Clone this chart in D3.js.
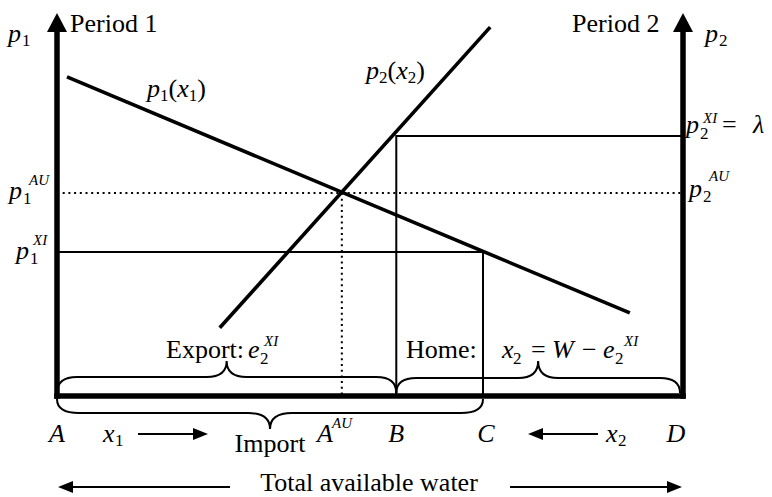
<!DOCTYPE html>
<html>
<head>
<meta charset="utf-8">
<script src="https://cdn.jsdelivr.net/npm/d3@7"></script>
<style>
  html, body { margin: 0; padding: 0; background: #fff; }
  svg { display: block; }
  text { font-family: "Liberation Serif", "Times New Roman", serif; fill: #000; }
</style>
</head>
<body>
<svg id="chart" width="772" height="497"></svg>
<script>
// ---------- data (water units 0..100 from A to D, price units 0..100) ----------
const pointNames  = ["A", "AAU", "B", "C", "D"];
const pointValues = [0, 45.5, 54.2, 68.05, 100];
const demand1 = [{x: 1.6, p: 83.3}, {x: 91.5, p: 21.7}];   // p1(x1)
const supply2 = [{x: 26.0, p: 17.8}, {x: 69.2, p: 96.3}];  // p2(x2)
const priceNames  = ["p1AU", "p1XI", "p2XI"];
const priceValues = [53.0, 37.6, 67.9];
const axisTop = 100;

const P = Object.fromEntries(pointNames.map((n, i) => [n, pointValues[i]]));
const Q = Object.fromEntries(priceNames.map((n, i) => [n, priceValues[i]]));

const svg = d3.select("#chart");
const x = d3.scaleLinear().domain([0, 100]).range([57, 683]);
const y = d3.scaleLinear().domain([0, 100]).range([396, 13]);

const g = svg.append("g");
const FS = 26, SUB = 17, SUP = 15;

function txt(px, py, s, opt = {}) {
  const t = g.append("text").attr("x", px).attr("y", py).text(s)
    .style("font-size", (opt.size || FS) + "px");
  if (opt.italic) t.style("font-style", "italic");
  if (opt.anchor) t.attr("text-anchor", opt.anchor);
  return t;
}
function flow(px, py, parts, anchor) {
  const t = g.append("text").attr("x", px).attr("y", py);
  if (anchor) t.attr("text-anchor", anchor);
  let prev = 0;
  parts.forEach(([s, it, sz, off]) => {
    const ts = t.append("tspan").text(s).attr("dy", (off || 0) - prev)
      .style("font-size", (sz || FS) + "px");
    if (it) ts.style("font-style", "italic");
    prev = off || 0;
  });
  return t;
}

// ---------- reference lines ----------
g.append("line").attr("x1", x(0)).attr("x2", x(100)).attr("y1", y(Q.p1AU)).attr("y2", y(Q.p1AU))
  .attr("stroke", "#000").attr("stroke-width", 2).attr("stroke-dasharray", "2,3.7");
g.append("line").attr("x1", x(P.AAU)).attr("x2", x(P.AAU)).attr("y1", y(Q.p1AU)).attr("y2", y(0))
  .attr("stroke", "#000").attr("stroke-width", 2).attr("stroke-dasharray", "2,3.7");

g.append("path").attr("d", `M${x(0)},${y(Q.p1XI)} H${x(P.C)} V${y(0)}`)
  .attr("fill", "none").attr("stroke", "#000").attr("stroke-width", 2);
g.append("path").attr("d", `M${x(P.B)},${y(0)} V${y(Q.p2XI)} H${x(100)}`)
  .attr("fill", "none").attr("stroke", "#000").attr("stroke-width", 2);

// ---------- curves ----------
const line = d3.line().x(d => x(d.x)).y(d => y(d.p));
g.append("path").attr("d", line(demand1)).attr("fill", "none").attr("stroke", "#000").attr("stroke-width", 3.6);
g.append("path").attr("d", line(supply2)).attr("fill", "none").attr("stroke", "#000").attr("stroke-width", 3.6);

// ---------- axes ----------
const AW = 5.5;
g.append("line").attr("x1", x(0) - AW / 2).attr("x2", x(100) + AW / 2).attr("y1", y(0)).attr("y2", y(0))
  .attr("stroke", "#000").attr("stroke-width", AW);
[0, 100].forEach(v => {
  g.append("line").attr("x1", x(v)).attr("x2", x(v)).attr("y1", y(0) + AW / 2).attr("y2", y(axisTop) + 14)
    .attr("stroke", "#000").attr("stroke-width", AW);
  const tx = x(v), ty = y(axisTop);
  g.append("path").attr("d", `M${tx},${ty} L${tx - 10},${ty + 19} L${tx + 10},${ty + 19} Z`).attr("fill", "#000");
});

// ---------- braces ----------
function brace(x0, x1, yBase, dir, h1, h2, r) {
  const yb = yBase + dir * h1, yt = yBase + dir * h2, xm = (x0 + x1) / 2;
  const p = d3.path();
  p.moveTo(x0, yBase);
  p.quadraticCurveTo(x0, yb, x0 + r, yb);
  p.lineTo(xm - r, yb);
  p.quadraticCurveTo(xm, yb, xm, yt);
  p.quadraticCurveTo(xm, yb, xm + r, yb);
  p.lineTo(x1 - r, yb);
  p.quadraticCurveTo(x1, yb, x1, yBase);
  g.append("path").attr("d", p.toString()).attr("fill", "none").attr("stroke", "#000").attr("stroke-width", 2);
}
brace(x(0), x(P.B), y(0) - 3, -1, 16, 32, 20);
brace(x(P.B), x(100) - 3, y(0) - 3, -1, 15, 32, 20);
brace(x(0), x(P.C), y(0) + 3, 1, 14, 30, 22);

// ---------- arrows ----------
function arrow(xa, xb, yy) {
  const dir = Math.sign(xb - xa), hl = 15, hw = 6;
  g.append("line").attr("x1", xa).attr("x2", xb - dir * hl).attr("y1", yy).attr("y2", yy)
    .attr("stroke", "#000").attr("stroke-width", 2);
  g.append("path").attr("d", `M${xb},${yy} L${xb - dir * hl},${yy - hw} L${xb - dir * hl},${yy + hw} Z`).attr("fill", "#000");
}
arrow(138, 208, 434);
arrow(598, 528, 434);
arrow(230, 58, 487);
arrow(510, 682, 487);

// ---------- labels ----------
txt(8, 42, "p", {italic: true}); txt(22, 46, "1", {size: SUB});
txt(70, 32, "Period 1");
txt(572, 32, "Period 2");
txt(705, 42, "p", {italic: true}); txt(719, 46, "2", {size: SUB});

const yAU = y(Q.p1AU), yXI = y(Q.p1XI), y2XI = y(Q.p2XI);
txt(9, yAU + 6, "p", {italic: true}); txt(23, yAU + 11, "1", {size: SUB}); txt(29, yAU - 8, "AU", {italic: true, size: SUP});
txt(16, yXI + 7, "p", {italic: true}); txt(30, yXI + 12, "1", {size: SUB}); txt(33, yXI - 7, "XI", {italic: true, size: SUP});

txt(689, yAU + 4, "p", {italic: true}); txt(703, yAU + 9, "2", {size: SUB}); txt(709, yAU - 12, "AU", {italic: true, size: SUP});
txt(686, y2XI - 3, "p", {italic: true}); txt(700, y2XI + 3, "2", {size: SUB}); txt(703, y2XI - 13, "XI", {italic: true, size: SUP});
txt(722, y2XI - 3, "="); txt(753, y2XI - 3, "λ", {italic: true});

flow(147, 97, [["p", true, FS, 0], ["1", false, SUB, 4], ["(", false, FS, 0], ["x", true, FS, 0], ["1", false, SUB, 4], [")", false, FS, 0]]);
flow(366, 79, [["p", true, FS, 0], ["2", false, SUB, 4], ["(", false, FS, 0], ["x", true, FS, 0], ["2", false, SUB, 4], [")", false, FS, 0]]);

txt(166, 358, "Export:");
txt(248, 358, "e", {italic: true}); txt(260, 364, "2", {size: SUB}); txt(264, 346, "XI", {italic: true, size: SUP});
txt(406, 358, "Home:");
txt(502, 358, "x", {italic: true}); txt(513, 364, "2", {size: SUB});
txt(531, 358, "="); txt(552, 358, "W", {italic: true}); txt(582, 358, "−");
txt(603, 358, "e", {italic: true}); txt(615, 364, "2", {size: SUB}); txt(624, 346, "XI", {italic: true, size: SUP});

txt(x(P.A), 442, "A", {italic: true, anchor: "middle"});
txt(103, 442, "x", {italic: true}); txt(115, 446, "1", {size: SUB});
txt(317, 442, "A", {italic: true}); txt(332, 428, "AU", {italic: true, size: SUP});
txt(x(P.B), 442, "B", {italic: true, anchor: "middle"});
txt(x(P.C) + 3, 442, "C", {italic: true, anchor: "middle"});
txt(606, 442, "x", {italic: true}); txt(618, 446, "2", {size: SUB});
txt(x(P.D) - 7, 442, "D", {italic: true, anchor: "middle"});
txt((x(P.A) + x(P.C)) / 2, 452, "Import", {anchor: "middle"});
txt(369, 491, "Total available water", {anchor: "middle"});
</script>
</body>
</html>
